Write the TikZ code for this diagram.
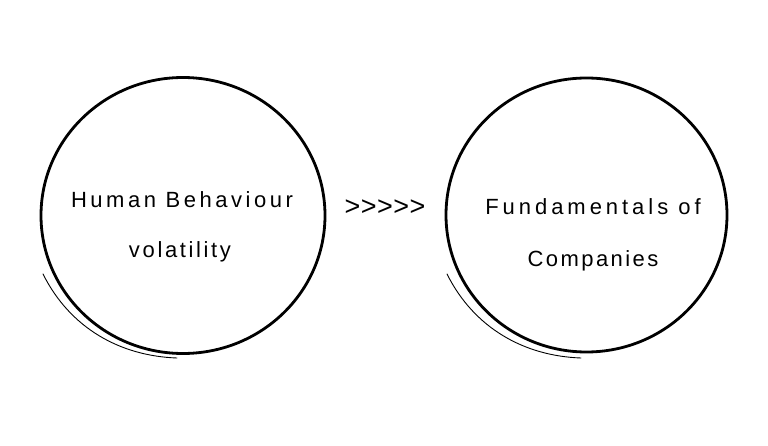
\documentclass[tikz,border=0pt]{standalone}
\usepackage{fontspec}
\setmainfont{Liberation Sans}
\usetikzlibrary{shapes.geometric}
\tikzset{
  bubble/.style={draw=black, line width=2.8pt, ellipse, inner sep=0pt,
    minimum width=284pt, minimum height=276pt},
  sketch/.style={draw=black, line width=0.9pt, line cap=round},
  hand/.style={font=\fontsize{22}{26}\selectfont, inner sep=0pt, anchor=base},
}
\begin{document}
\begin{tikzpicture}[x=1pt,y=-1pt]
\useasboundingbox (0,0) rectangle (768,446);
% circles
\node[bubble] (left) at (183,215.5) {};
\node[bubble, minimum width=281pt, minimum height=274pt] (right) at (586.5,215) {};
% sketchy extra strokes
\coordinate (ls) at (43,274);
\coordinate (le) at (177,358);
\draw[sketch] (ls) .. controls (70,328) and (120,356) .. (le);
\coordinate (rs) at (447,274);
\coordinate (re) at (581,358);
\draw[sketch] (rs) .. controls (474,328) and (524,356) .. (re);
% texts
\node[hand] (hb) at (182,208) {\addfontfeature{LetterSpace=16}Human Behaviour};
\node[hand] (vol) at (180,258) {\addfontfeature{LetterSpace=12}volatility};
\node[hand] (fo) at (593,215) {\addfontfeature{LetterSpace=18}Fundamentals of};
\node[hand] (co) at (593,266) {\addfontfeature{LetterSpace=11}Companies};
\node[font=\fontsize{27}{30}\selectfont, inner sep=0pt] (chev) at (385,208) {\addfontfeature{LetterSpace=2}>{}>{}>{}>{}>};
\end{tikzpicture}
\end{document}
